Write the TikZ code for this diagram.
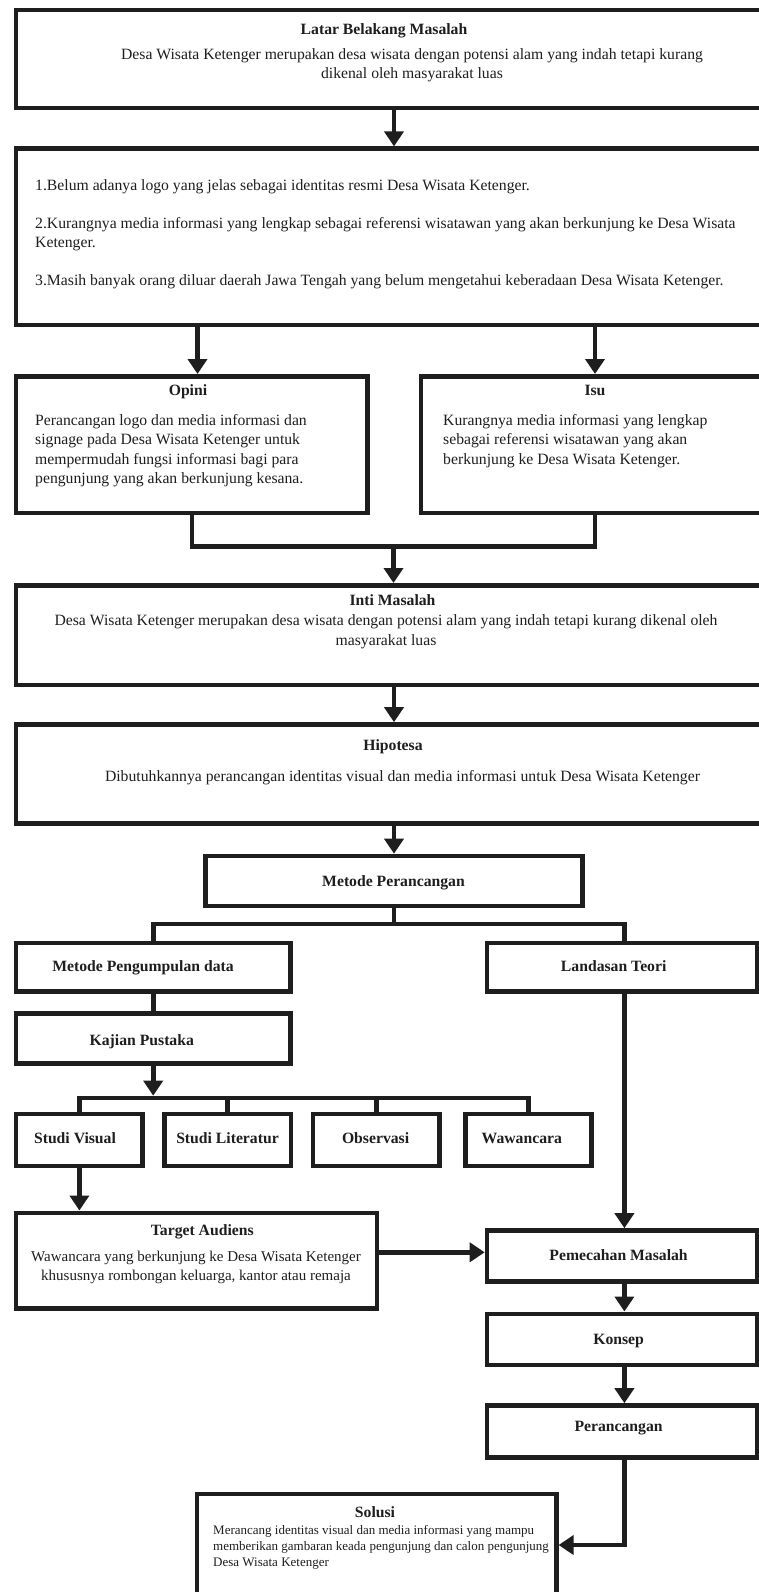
\documentclass[tikz,border=0pt]{standalone}
\usepackage{fontspec}
\setmainfont{Liberation Serif}
\usepackage{tikz}
\usetikzlibrary{arrows.meta,positioning}
\definecolor{inkdark}{RGB}{30,30,30}

\begin{document}
\begin{tikzpicture}[x=1pt,y=-1pt,font=\fontsize{15.7}{19}\selectfont,
    boxframe/.style={draw=inkdark,line width=4.6pt,inner sep=0pt},
    link/.style={draw=inkdark,line width=4.6pt},
    arr/.style={link,-{Triangle[width=19pt,length=15pt]}},
    txt/.style={inner sep=0pt,anchor=base,text=inkdark},
    ttl/.style={txt,font=\fontsize{15.7}{19}\selectfont\bfseries}]
  \path[use as bounding box,clip] (0,0) rectangle (759,1592);
  % Guide coordinates for connectors
  \coordinate (cMid) at (394,0);
  \coordinate (cOpini) at (197.5,0);
  \coordinate (cIsu) at (595,0);
  \coordinate (cRight) at (624.4,0);
  \coordinate (merge) at (393.5,546.7);
  \coordinate (split) at (394,924);
  \coordinate (fork) at (300,1098);
  \coordinate (forkTip) at (0,1095.7);
  \coordinate (tJoin) at (0,1252.3);
  \coordinate (solJoin) at (0,1545);

  % Upper boxes (multi-line texts sit on their last baseline)
  \node[boxframe,minimum width=774pt,minimum height=98pt] (latar) at (403,59) {};
  \node[ttl] (latarT) at (384,34.3) {Latar Belakang Masalah};
  \node[txt,align=center,font=\fontsize{15.7}{18.5}\selectfont] (latarB) at (412,78.5)
    {Desa Wisata Ketenger merupakan desa wisata dengan potensi alam yang indah tetapi kurang\\dikenal oleh masyarakat luas};

  \node[boxframe,minimum width=774pt,minimum height=176.3pt] (masalah) at (403,236.85) {};
  \node[txt,anchor=base west,align=left] (masalahB) at (35,285)
    {1.Belum adanya logo yang jelas sebagai identitas resmi Desa Wisata Ketenger.\\[19pt]
     2.Kurangnya media informasi yang lengkap sebagai referensi wisatawan yang akan berkunjung ke Desa Wisata\\
     Ketenger.\\[19pt]
     3.Masih banyak orang diluar daerah Jawa Tengah yang belum mengetahui keberadaan Desa Wisata Ketenger.};

  \node[boxframe,minimum width=351.7pt,minimum height=136.7pt] (opini) at (191.85,444.65) {};
  \node[ttl] (opiniT) at (188,395) {Opini};
  \node[txt,anchor=base west,align=left,font=\fontsize{15.7}{19.2}\selectfont] (opiniB) at (35,483.3)
    {Perancangan logo dan media informasi dan\\signage pada Desa Wisata Ketenger untuk\\mempermudah fungsi informasi bagi para\\pengunjung yang akan berkunjung kesana.};

  \node[boxframe,minimum width=369pt,minimum height=136.7pt] (isu) at (605.5,444.65) {};
  \node[ttl] (isuT) at (595,395) {Isu};
  \node[txt,anchor=base west,align=left,font=\fontsize{15.7}{19.2}\selectfont] (isuB) at (443,464.1)
    {Kurangnya media informasi yang lengkap\\sebagai referensi wisatawan yang akan\\berkunjung ke Desa Wisata Ketenger.};

  \node[boxframe,minimum width=774pt,minimum height=99.7pt] (inti) at (403,635.15) {};
  \node[ttl] (intiT) at (392.5,605) {Inti Masalah};
  \node[txt,align=center,font=\fontsize{15.7}{19.3}\selectfont] (intiB) at (386,645)
    {Desa Wisata Ketenger merupakan desa wisata dengan potensi alam yang indah tetapi kurang dikenal oleh\\masyarakat luas};

  \node[boxframe,minimum width=774pt,minimum height=98.8pt] (hipotesa) at (403,773.9) {};
  \node[ttl] (hipotesaT) at (393,750) {Hipotesa};
  \node[txt] (hipotesaB) at (402.5,781.7)
    {Dibutuhkannya perancangan identitas visual dan media informasi untuk Desa Wisata Ketenger};

  % Method boxes
  \node[boxframe,minimum width=376.6pt,minimum height=50pt] (metode) at (394,881) {};
  \node[ttl] (metodeT) at (393.5,886.7) {Metode Perancangan};
  \node[boxframe,minimum width=274.4pt,minimum height=48.7pt] (pengumpulan) at (153.2,967.15) {};
  \node[ttl] (pengumpulanT) at (143,971.7) {Metode Pengumpulan data};
  \node[boxframe,minimum width=270.5pt,minimum height=48.7pt] (landasan) at (622.25,967.15) {};
  \node[ttl] (landasanT) at (613.7,971.7) {Landasan Teori};
  \node[boxframe,minimum width=274.4pt,minimum height=49.6pt] (kajian) at (153.2,1038.5) {};
  \node[ttl] (kajianT) at (141.8,1045) {Kajian Pustaka};
  \foreach \nm/\cx/\tx/\lbl in {visual/79.4/75/Studi Visual, literatur/227.75/227.5/Studi Literatur,
      observasi/376.25/375.6/Observasi, wawancara/528.5/521.8/Wawancara}{
    \node[boxframe,minimum width=126.5pt,minimum height=52.2pt] (\nm) at (\cx,1139.9) {};
    \node[ttl] (\nm T) at (\tx,1143) {\lbl};
  }

  % Lower boxes
  \node[boxframe,minimum width=361pt,minimum height=95.5pt] (target) at (196.5,1260.55) {};
  \node[ttl] (targetT) at (202.3,1235) {Target Audiens};
  \node[txt,align=center,font=\fontsize{15}{18.3}\selectfont] (targetB) at (196,1280)
    {Wawancara yang berkunjung ke Desa Wisata Ketenger\\khususnya rombongan keluarga, kantor atau remaja};
  \node[boxframe,minimum width=270.5pt,minimum height=51.2pt] (pemecahan) at (622.25,1256.1) {};
  \node[ttl] (pemecahanT) at (618.6,1260) {Pemecahan Masalah};
  \node[boxframe,minimum width=270.5pt,minimum height=51.2pt] (konsep) at (622.25,1339.4) {};
  \node[ttl] (konsepT) at (618.6,1344) {Konsep};
  \node[boxframe,minimum width=270.5pt,minimum height=51.7pt] (perancangan) at (622.25,1431.35) {};
  \node[ttl] (perancanganT) at (618.6,1431) {Perancangan};
  \node[boxframe,minimum width=359.3pt,minimum height=126pt] (solusi) at (376.65,1557) {};
  \node[ttl] (solusiT) at (375,1517) {Solusi};
  \node[txt,anchor=base west,align=left,font=\fontsize{13}{16}\selectfont] (solusiB) at (213,1566)
    {Merancang identitas visual dan media informasi yang mampu\\memberikan gambaran keada pengunjung dan calon pengunjung\\Desa Wisata Ketenger};

  % Connectors
  \draw[arr] (latar.south -| cMid) -- (masalah.north -| cMid);
  \draw[arr] (masalah.south -| cOpini) -- (opini.north -| cOpini);
  \draw[arr] (masalah.south -| cIsu) -- (isu.north -| cIsu);
  \draw[link] (opini.south) |- (merge) -| (isu.south -| cIsu);
  \draw[arr] (merge) -- (inti.north -| merge);
  \draw[arr] (inti.south -| cMid) -- (hipotesa.north -| cMid);
  \draw[arr] (hipotesa.south -| cMid) -- (metode.north);
  \draw[link] (metode.south) -- (split);
  \draw[link] (pengumpulan.north) |- (split) -| (landasan.north -| cRight);
  \draw[link] (pengumpulan.south) -- (kajian.north);
  \draw[arr] (kajian.south) -- (kajian.south |- forkTip);
  \draw[link] (visual.north) |- (fork) -| (wawancara.north);
  \foreach \nm in {literatur,observasi}{
    \draw[link] (\nm.north) -- (\nm.north |- fork);
  }
  \draw[arr] (visual.south) -- (visual.south |- target.north);
  \draw[arr] (landasan.south -| cRight) -- (pemecahan.north -| cRight);
  \draw[arr] (target.east |- tJoin) -- (pemecahan.west |- tJoin);
  \draw[arr] (pemecahan.south -| cRight) -- (konsep.north -| cRight);
  \draw[arr] (konsep.south -| cRight) -- (perancangan.north -| cRight);
  \draw[arr] (perancangan.south -| cRight) |- (solusi.east |- solJoin);
\end{tikzpicture}
\end{document}
